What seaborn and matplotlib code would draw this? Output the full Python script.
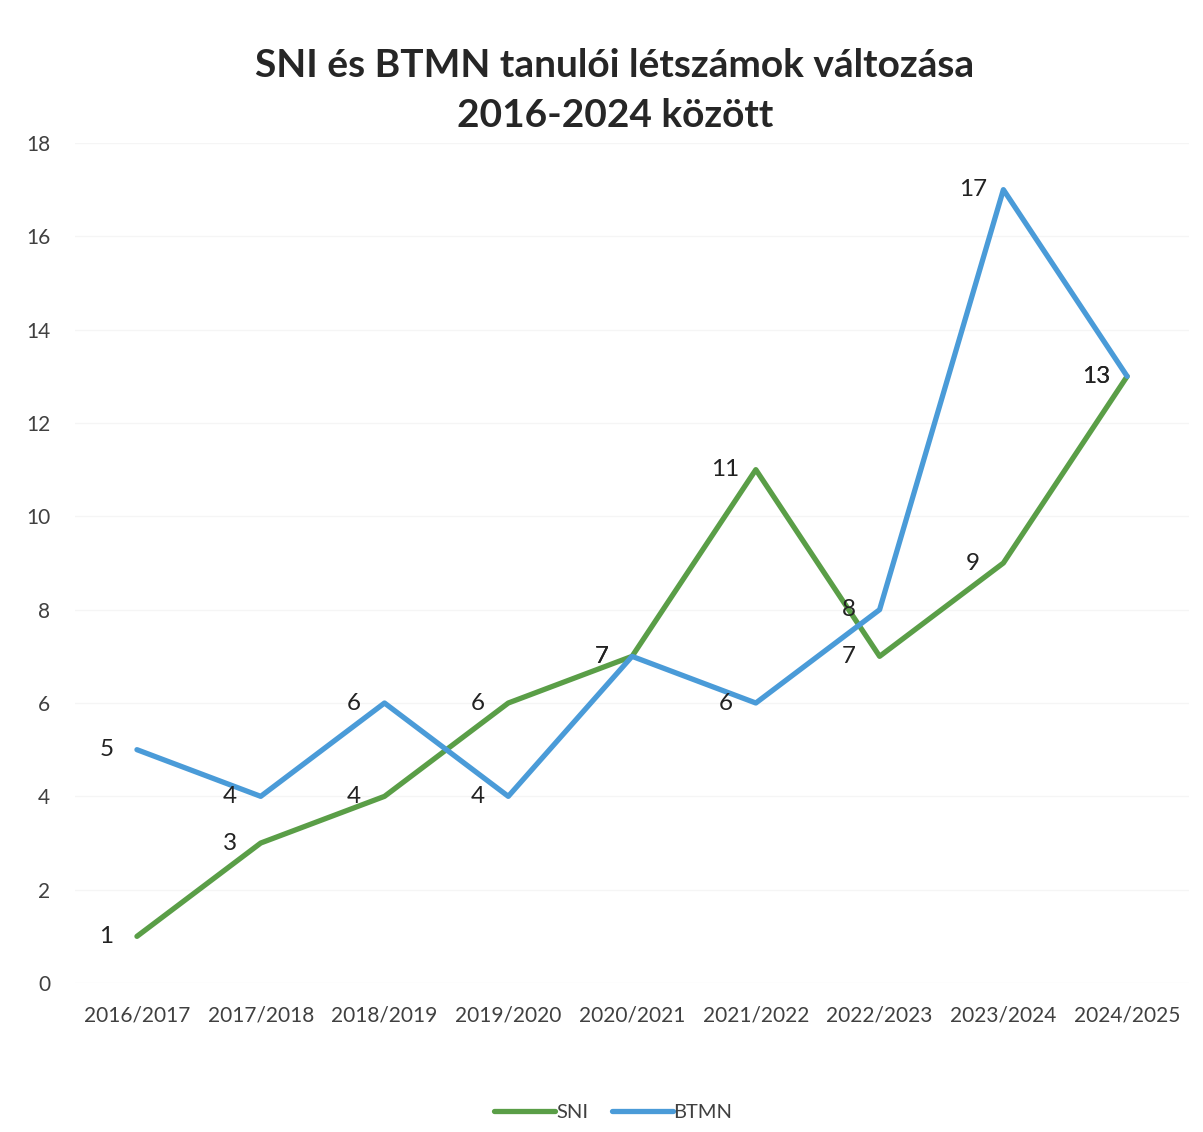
import pandas as pd
import matplotlib.pyplot as plt
import seaborn as sns

# adatok
tanevek = ['2016/2017', '2017/2018', '2018/2019', '2019/2020', '2020/2021',
           '2021/2022', '2022/2023', '2023/2024', '2024/2025']
sni = [1, 3, 4, 6, 7, 11, 7, 9, 13]
btmn = [5, 4, 6, 4, 7, 6, 8, 17, 13]
y_ticks = [0, 2, 4, 6, 8, 10, 12, 14, 16, 18]

szinek = {'SNI': '#5a9e47', 'BTMN': '#4a9bd8'}

sns.set_theme(style='white')
plt.rcParams['font.family'] = ['Lato', 'DejaVu Sans']

df = pd.DataFrame({
    'tanev': tanevek * 2,
    'letszam': sni + btmn,
    'csoport': ['SNI'] * len(sni) + ['BTMN'] * len(btmn),
})

fig = plt.figure(figsize=(12.03, 11.32), dpi=100)
ax = fig.add_axes([0.0624, 0.1316, 0.926, 0.7421])

sns.lineplot(data=df, x='tanev', y='letszam', hue='csoport', palette=szinek,
             linewidth=3.8, sort=False, ax=ax)

# adatcimkek a pontok bal oldalan
for csoport, ertekek in [('SNI', sni), ('BTMN', btmn)]:
    for i, v in enumerate(ertekek):
        ax.annotate(str(v), (i, v), xytext=(-22, 0), textcoords='offset points',
                    ha='center', va='center', fontsize=17.5, color='#222222')

ax.set_xlim(-0.5, len(tanevek) - 0.5)
ax.set_ylim(0, 18)
ax.set_yticks(y_ticks)
ax.set_xlabel('')
ax.set_ylabel('')
ax.grid(axis='y', color='#f5f5f5', linewidth=1)
for s in ax.spines.values():
    s.set_visible(False)
ax.tick_params(axis='y', labelsize=15, labelcolor='#404040', pad=18, length=0)
ax.tick_params(axis='x', labelsize=15, labelcolor='#404040', pad=16, length=0)

fig.suptitle('SNI és BTMN tanulói létszámok változása\n2016-2024 között',
             x=0.511, y=0.958, fontsize=28, fontweight='bold', color='#262626',
             linespacing=1.52)

ax.legend(loc='lower center', bbox_to_anchor=(0.51, -0.006),
          bbox_transform=fig.transFigure, ncol=2, frameon=False,
          fontsize=14.5, handlelength=3.0, handletextpad=0.05, columnspacing=1.2,
          labelcolor='#404040')

plt.savefig('out.png', dpi=100)
